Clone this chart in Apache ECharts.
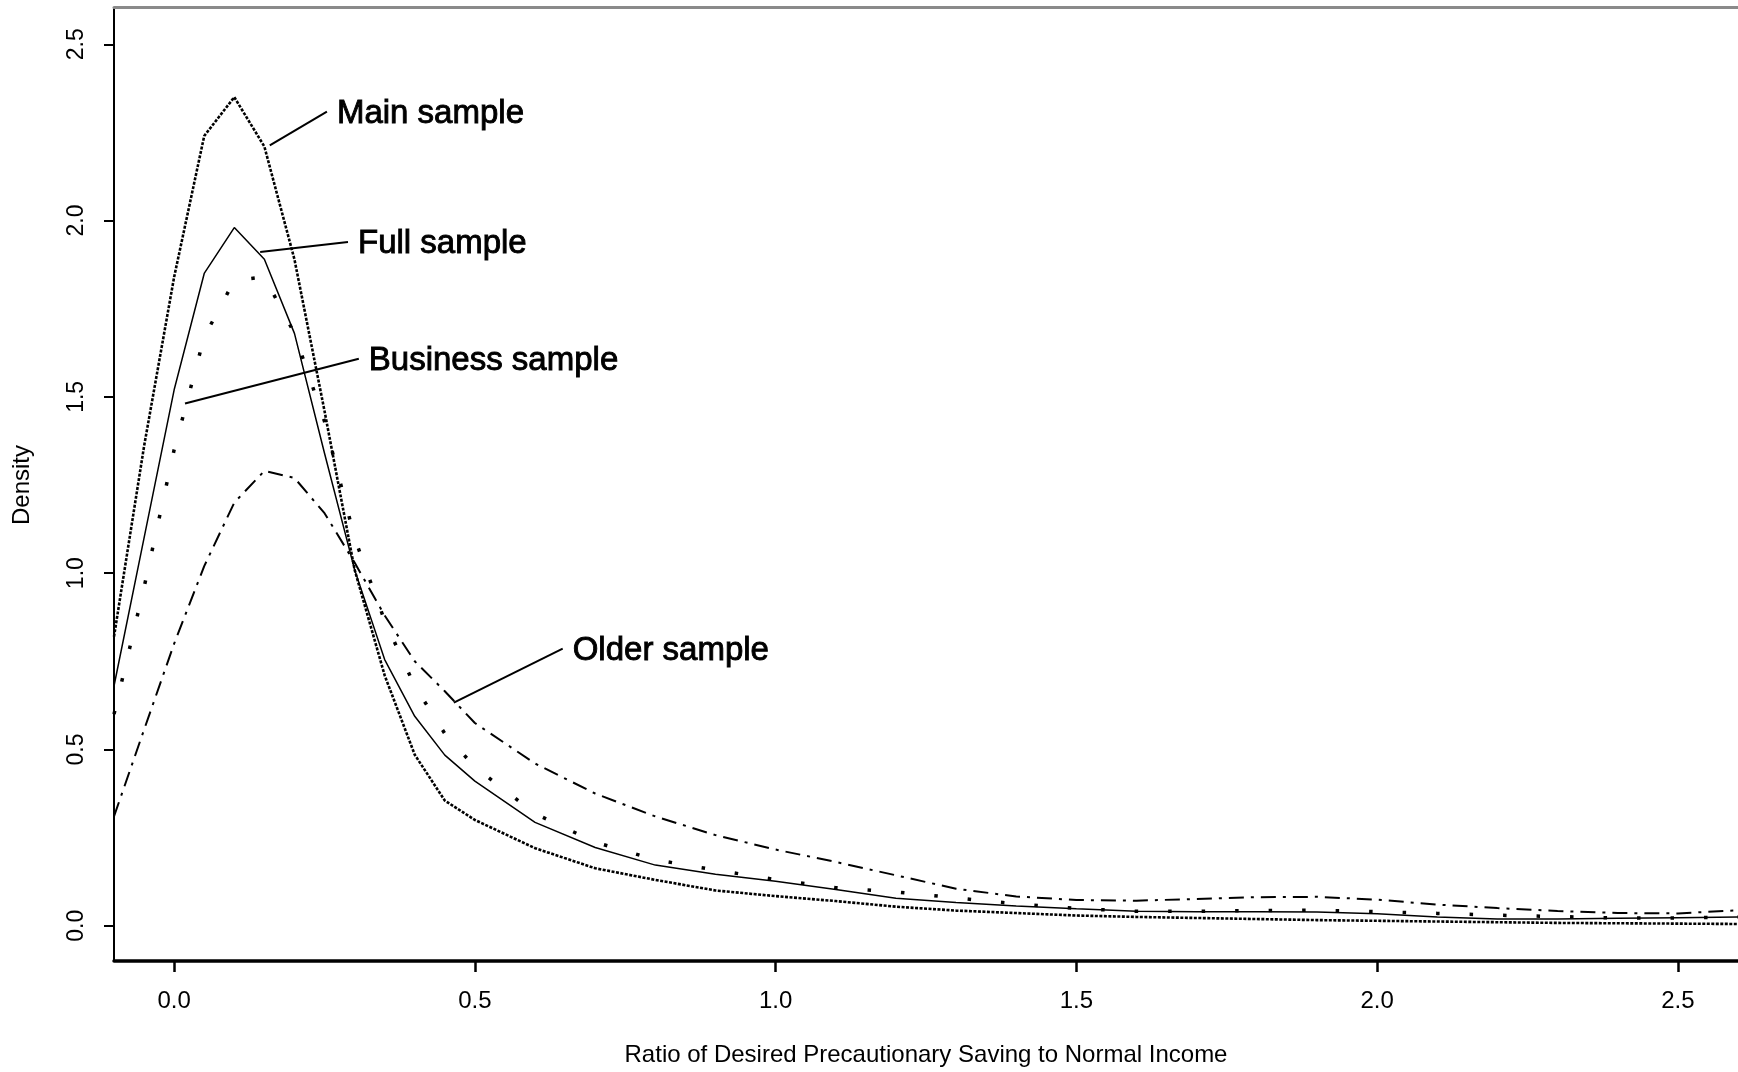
<!DOCTYPE html>
<html>
<head>
<meta charset="utf-8">
<script src="https://cdn.jsdelivr.net/npm/echarts@6/dist/echarts.min.js"></script>
<style>
  html, body { margin: 0; padding: 0; background: #fff; }
  #chart { width: 1738px; height: 1072px; }
</style>
</head>
<body>
<div id="chart"></div>
<script>
// ratio of desired precautionary saving to normal income (x grid of the density estimates)
const xs = [-0.1, -0.05, 0, 0.05, 0.1, 0.15, 0.2, 0.25, 0.3, 0.35, 0.4, 0.45, 0.5,
  0.6, 0.7, 0.8, 0.9, 1.0, 1.1, 1.2, 1.3, 1.4, 1.5, 1.6, 1.7, 1.8, 1.9, 2.0,
  2.1, 2.2, 2.3, 2.4, 2.5, 2.6];

const mainSample = [0.82, 1.36, 1.84, 2.24, 2.35, 2.21, 1.89, 1.46, 1.01, 0.71, 0.485, 0.355, 0.30,
  0.22, 0.163, 0.13, 0.10, 0.084, 0.07, 0.054, 0.043, 0.036, 0.029, 0.025, 0.022, 0.019, 0.016, 0.014,
  0.012, 0.010, 0.008, 0.007, 0.006, 0.005];

const fullSample = [0.68, 1.10, 1.52, 1.85, 1.98, 1.89, 1.68, 1.34, 1.01, 0.755, 0.594, 0.484, 0.41,
  0.293, 0.222, 0.172, 0.146, 0.126, 0.103, 0.078, 0.066, 0.056, 0.048, 0.041, 0.040, 0.040, 0.039, 0.034,
  0.025, 0.019, 0.019, 0.021, 0.023, 0.025];

const businessSample = [0.60, 0.96, 1.35, 1.67, 1.83, 1.84, 1.68, 1.43, 1.10, 0.865, 0.68, 0.545, 0.45,
  0.318, 0.237, 0.187, 0.158, 0.131, 0.108, 0.096, 0.079, 0.062, 0.049, 0.041, 0.041, 0.043, 0.044, 0.040,
  0.035, 0.030, 0.026, 0.022, 0.022, 0.025];

const olderSample = [0.31, 0.556, 0.80, 1.02, 1.20, 1.29, 1.27, 1.17, 1.03, 0.88, 0.75, 0.665, 0.575,
  0.46, 0.375, 0.31, 0.257, 0.216, 0.181, 0.143, 0.105, 0.083, 0.073, 0.071, 0.076, 0.081, 0.082, 0.074,
  0.060, 0.050, 0.042, 0.036, 0.035, 0.044];

const xTicks = [0, 0.5, 1.0, 1.5, 2.0, 2.5];
const yTicks = [0, 0.5, 1.0, 1.5, 2.0, 2.5];

// curve labels with their leader lines, in data units
const notes = [
  { text: 'Main sample', from: [0.159, 2.213], to: [0.254, 2.309] },
  { text: 'Full sample', from: [0.143, 1.911], to: [0.289, 1.939] },
  { text: 'Business sample', from: [0.018, 1.481], to: [0.307, 1.608] },
  { text: 'Older sample', from: [0.465, 0.633], to: [0.646, 0.786] }
];

const font = '"Liberation Sans", Arial, Helvetica, sans-serif';

function pairs(ys) {
  return xs.map((x, i) => [x, ys[i]]);
}

function curve(name, ys, lineStyle) {
  return {
    name,
    type: 'line',
    data: pairs(ys),
    symbol: 'none',
    smooth: false,
    clip: true,
    lineStyle: Object.assign({ color: '#000', cap: 'butt' }, lineStyle)
  };
}

const chart = echarts.init(document.getElementById('chart'));

chart.setOption({
  animation: false,
  backgroundColor: '#fff',
  grid: { left: 114, top: 9, width: 1626, height: 955, containLabel: false },
  xAxis: [{
    type: 'value',
    position: 'bottom',
    min: -0.1,
    max: 2.6,
    name: 'Ratio of Desired Precautionary Saving to Normal Income',
    nameLocation: 'middle',
    nameGap: 82,
    nameTextStyle: { fontSize: 24, color: '#000', fontFamily: font },
    axisLine: { show: true, onZero: false, lineStyle: { color: '#000', width: 3.5 } },
    axisTick: { show: true, length: 11, lineStyle: { color: '#000', width: 2.5 }, customValues: xTicks },
    axisLabel: { customValues: xTicks, margin: 28, fontSize: 24, color: '#000', fontFamily: font,
      formatter: v => v.toFixed(1) },
    splitLine: { show: false }
  }, {
    type: 'value',
    position: 'top',
    min: -0.1,
    max: 2.6,
    offset: 2,
    axisLine: { show: true, onZero: false, lineStyle: { color: '#8a8a8a', width: 3 } },
    axisTick: { show: false },
    axisLabel: { show: false },
    splitLine: { show: false }
  }],
  yAxis: {
    type: 'value',
    min: -0.1,
    max: 2.6,
    name: 'Density',
    nameLocation: 'middle',
    nameGap: 80,
    nameRotate: 90,
    nameTextStyle: { fontSize: 24, color: '#000', fontFamily: font },
    axisLine: { show: true, onZero: false, lineStyle: { color: '#000', width: 2 } },
    axisTick: { show: true, length: 10, lineStyle: { color: '#000', width: 2 }, customValues: yTicks },
    axisLabel: { customValues: yTicks, rotate: 90, margin: 26, fontSize: 23, color: '#000', fontFamily: font,
      formatter: v => v.toFixed(1) },
    splitLine: { show: false }
  },
  series: [
    curve('Older sample', olderSample, { width: 2, type: [15, 7, 3, 7] }),
    curve('Business sample', businessSample, { width: 3.5, type: [3.5, 30] }),
    curve('Full sample', fullSample, { width: 1.5, type: 'solid' }),
    curve('Main sample', mainSample, { width: 2.6, type: [3, 1.5] })
  ]
});

// place the curve labels once the axes exist
const graphic = [];
notes.forEach(n => {
  const a = chart.convertToPixel({ gridIndex: 0 }, n.from);
  const b = chart.convertToPixel({ gridIndex: 0 }, n.to);
  graphic.push({
    type: 'line',
    shape: { x1: a[0], y1: a[1], x2: b[0], y2: b[1] },
    style: { stroke: '#000', lineWidth: 2 }
  });
  graphic.push({
    type: 'text',
    x: b[0] + 10,
    y: b[1] + 2,
    style: { text: n.text, fontSize: 33, fontFamily: font, fill: '#000',
      stroke: '#000', lineWidth: 0.9, verticalAlign: 'middle', align: 'left' }
  });
});
chart.setOption({ graphic });
</script>
</body>
</html>
